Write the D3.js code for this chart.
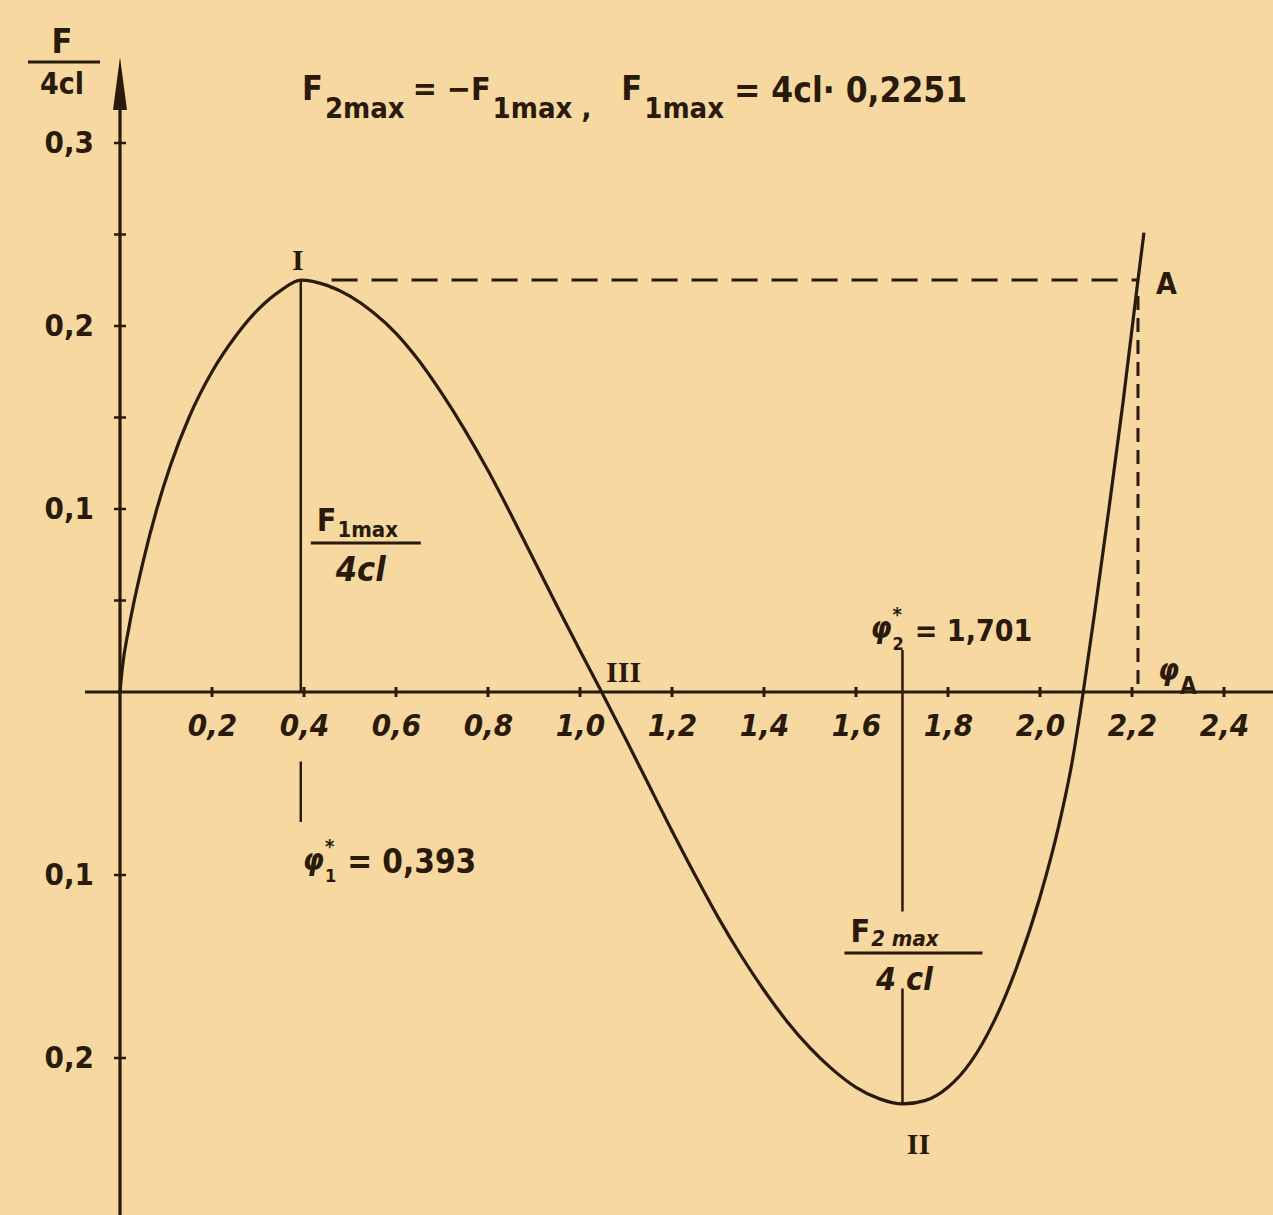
<!DOCTYPE html>
<html>
<head>
<meta charset="utf-8">
<script src="https://cdn.jsdelivr.net/npm/d3@7"></script>
<style>
  html, body { margin: 0; padding: 0; background: #f6d8a0; }
  svg { display: block; }
  text { font-family: "DejaVu Sans Condensed", "DejaVu Sans", sans-serif; fill: #2a1a0a; font-weight: bold; }
  .roman { font-family: "Liberation Serif", "DejaVu Serif", serif; font-weight: bold; }
</style>
</head>
<body>
<svg id="chart" width="1273" height="1215"></svg>
<script>
// Angle φ (rad) and reduced force F/(4cl) along the characteristic curve
const phi   = [0, 0.005, 0.020, 0.050, 0.080, 0.110, 0.150, 0.200, 0.250, 0.300, 0.350, 0.393,
               0.450, 0.500, 0.550, 0.600, 0.650, 0.700, 0.750, 0.800, 0.850, 0.900, 0.950, 1.000, 1.047,
               1.100, 1.150, 1.200, 1.250, 1.300, 1.350, 1.400, 1.450, 1.500, 1.550, 1.600, 1.650, 1.701,
               1.750, 1.800, 1.850, 1.900, 1.950, 2.000, 2.040, 2.070, 2.094, 2.120, 2.150, 2.180, 2.213, 2.226];
const force = [0, 0.013, 0.036, 0.071, 0.100, 0.124, 0.150, 0.175, 0.194, 0.209, 0.2195, 0.2251,
               0.2222, 0.2163, 0.2075, 0.196, 0.181, 0.163, 0.143, 0.121, 0.097, 0.072, 0.047, 0.0225, 0,
               -0.026, -0.051, -0.076, -0.100, -0.123, -0.144, -0.163, -0.180, -0.1945, -0.2065, -0.216, -0.2222, -0.2251,
               -0.2233, -0.2160, -0.202, -0.180, -0.150, -0.112, -0.074, -0.038, 0, 0.0455, 0.1004, 0.1574, 0.2251, 0.251];

// Characteristic points
const phi1Star = 0.393, phi2Star = 1.701, phiA = 2.213;
const f1Max = 0.2251, f2Max = -0.2251;

// Axis ticks
const xTicks = [0.2, 0.4, 0.6, 0.8, 1.0, 1.2, 1.4, 1.6, 1.8, 2.0, 2.2, 2.4];
const yMinorTicks = [-0.2, -0.1, 0.05, 0.1, 0.15, 0.2, 0.25, 0.3];
const yLabelTicks = [-0.2, -0.1, 0.1, 0.2, 0.3];

const ink = "#2a1a0a";
const svg = d3.select("#chart");

const x = d3.scaleLinear().domain([0, 2.4]).range([120, 1224]);
const y = d3.scaleLinear().domain([0, 0.3]).range([692, 143]);

const comma = d => d3.format(".1f")(Math.abs(d)).replace(".", ",");

// ---- x axis ----
svg.append("line")
  .attr("x1", x(-0.076)).attr("x2", 1273)
  .attr("y1", y(0)).attr("y2", y(0))
  .attr("stroke", ink).attr("stroke-width", 3);

const xAxis = svg.append("g")
  .attr("transform", `translate(0,${y(0)})`)
  .call(d3.axisBottom(x).tickValues(xTicks).tickSize(0).tickPadding(22).tickFormat(comma));
xAxis.select(".domain").remove();
xAxis.selectAll("text")
  .attr("font-size", 31).attr("font-style", "italic")
  .attr("fill", ink).style("font-family", "'DejaVu Sans Condensed', sans-serif");
svg.append("g").selectAll("line").data(xTicks).join("line")
  .attr("x1", d => x(d)).attr("x2", d => x(d))
  .attr("y1", y(0) - 5).attr("y2", y(0) + 5)
  .attr("stroke", ink).attr("stroke-width", 3);

// ---- y axis ----
svg.append("line")
  .attr("x1", x(0)).attr("x2", x(0))
  .attr("y1", 1215).attr("y2", y(0.33))
  .attr("stroke", ink).attr("stroke-width", 3.2);
svg.append("path")
  .attr("d", `M${x(0)},${y(0.347)} L${x(0) - 7},${y(0.318)} L${x(0) + 7},${y(0.318)} Z`)
  .attr("fill", ink);

svg.append("g").selectAll("line").data(yMinorTicks).join("line")
  .attr("x1", x(0) - 6).attr("x2", x(0) + 6)
  .attr("y1", d => y(d)).attr("y2", d => y(d))
  .attr("stroke", ink).attr("stroke-width", 2.5);

const yAxis = svg.append("g")
  .attr("transform", `translate(${x(0)},0)`)
  .call(d3.axisLeft(y).tickValues(yLabelTicks).tickSize(0).tickPadding(26).tickFormat(comma));
yAxis.select(".domain").remove();
yAxis.selectAll("text")
  .attr("font-size", 31)
  .attr("fill", ink).style("font-family", "'DejaVu Sans Condensed', sans-serif");

// y axis title F / 4cl
svg.append("text").attr("x", 62).attr("y", 53).attr("text-anchor", "middle")
  .attr("font-size", 34).text("F");
svg.append("line").attr("x1", 28).attr("x2", 100).attr("y1", 62).attr("y2", 62)
  .attr("stroke", ink).attr("stroke-width", 3);
svg.append("text").attr("x", 62).attr("y", 94).attr("text-anchor", "middle")
  .attr("font-size", 30).text("4cl");

// ---- reference lines ----
// F1max level through I to A
svg.append("line")
  .attr("x1", x(0.46)).attr("x2", x(phiA))
  .attr("y1", y(f1Max)).attr("y2", y(f1Max))
  .attr("stroke", ink).attr("stroke-width", 3).attr("stroke-dasharray", "26,14");
// φA drop line
svg.append("line")
  .attr("x1", x(phiA)).attr("x2", x(phiA))
  .attr("y1", y(f1Max) + 16).attr("y2", y(0))
  .attr("stroke", ink).attr("stroke-width", 3).attr("stroke-dasharray", "14,8");
// φ1* ordinate
svg.append("line")
  .attr("x1", x(phi1Star)).attr("x2", x(phi1Star))
  .attr("y1", y(f1Max)).attr("y2", y(0))
  .attr("stroke", ink).attr("stroke-width", 2.5);
svg.append("line")
  .attr("x1", x(phi1Star)).attr("x2", x(phi1Star))
  .attr("y1", y(-0.038)).attr("y2", y(-0.071))
  .attr("stroke", ink).attr("stroke-width", 2.5);
// φ2* ordinate
svg.append("line")
  .attr("x1", x(phi2Star)).attr("x2", x(phi2Star))
  .attr("y1", y(0.023)).attr("y2", y(-0.12))
  .attr("stroke", ink).attr("stroke-width", 2.5);
svg.append("line")
  .attr("x1", x(phi2Star)).attr("x2", x(phi2Star))
  .attr("y1", y(-0.162)).attr("y2", y(f2Max))
  .attr("stroke", ink).attr("stroke-width", 2.5);

// ---- the curve ----
const pts = phi.map((p, i) => [p, force[i]]);
svg.append("path")
  .datum(pts)
  .attr("d", d3.line().x(d => x(d[0])).y(d => y(d[1])).curve(d3.curveMonotoneX))
  .attr("fill", "none").attr("stroke", ink).attr("stroke-width", 3.2)
  .attr("stroke-linejoin", "round");

// ---- annotations ----
function txt(xp, yp, s, size, italic) {
  const t = svg.append("text").attr("x", xp).attr("y", yp).attr("font-size", size).text(s);
  if (italic) t.attr("font-style", "italic");
  return t;
}
// Writes a run of pieces left to right, each starting where the previous one ended
function run(x0, pieces) {
  let cx = x0;
  pieces.forEach(p => {
    const t = txt(cx + (p.gap || 0), p.y, p.t, p.s, p.i);
    cx = cx + (p.gap || 0) + t.node().getComputedTextLength();
  });
  return cx;
}

// Header: F2max = −F1max ,  F1max = 4cl·0,2251
run(302, [
  {t: "F", y: 100, s: 34}, {t: "2max", y: 118, s: 29, gap: 2},
  {t: "=", y: 100, s: 32, gap: 8}, {t: "−F", y: 100, s: 32, gap: 10},
  {t: "1max ,", y: 118, s: 29, gap: 2},
  {t: "F", y: 100, s: 34, gap: 30}, {t: "1max", y: 118, s: 29, gap: 2},
  {t: "= 4cl· 0,2251", y: 102, s: 35, gap: 10}
]);

// Roman numerals and A
svg.append("text").attr("class", "roman").attr("x", x(phi1Star) - 3).attr("y", y(f1Max) - 10)
  .attr("text-anchor", "middle").attr("font-size", 30).text("I");
svg.append("text").attr("class", "roman").attr("x", x(1.047) + 22).attr("y", y(0) - 10)
  .attr("text-anchor", "middle").attr("font-size", 30).text("III");
svg.append("text").attr("class", "roman").attr("x", x(phi2Star) + 16).attr("y", y(f2Max) + 50)
  .attr("text-anchor", "middle").attr("font-size", 30).text("II");
txt(x(phiA) + 18, y(f1Max) + 14, "A", 30);

// F1max / 4cl
run(x(phi1Star) + 16, [{t: "F", y: 531, s: 32}, {t: "1max", y: 537, s: 22, gap: 1}]);
svg.append("line").attr("x1", x(phi1Star) + 10).attr("x2", x(phi1Star) + 120)
  .attr("y1", 543).attr("y2", 543).attr("stroke", ink).attr("stroke-width", 3);
svg.append("text").attr("x", x(phi1Star) + 60).attr("y", 581).attr("text-anchor", "middle")
  .attr("font-size", 34).attr("font-style", "italic").text("4cl");

// F2max / 4cl
run(x(phi2Star) - 52, [{t: "F", y: 942, s: 32}, {t: "2 max", y: 946, s: 22, i: true, gap: 1}]);
svg.append("line").attr("x1", x(phi2Star) - 58).attr("x2", x(phi2Star) + 80)
  .attr("y1", 953).attr("y2", 953).attr("stroke", ink).attr("stroke-width", 3);
svg.append("text").attr("x", x(phi2Star) + 2).attr("y", 990).attr("text-anchor", "middle")
  .attr("font-size", 32).attr("font-style", "italic").text("4 cl");

// φ with subscript index and star, followed by its value
function phiLabel(x0, base, index, value, vSize) {
  const f = txt(x0, base, "φ", 30, true);
  const w = f.node().getComputedTextLength();
  const sub = txt(x0 + w + 1, base + 12, index, 18);
  txt(x0 + w + 1, base - 17, "*", 20);
  const ws = sub.node().getComputedTextLength();
  txt(x0 + w + ws + 12, base + 3, value, vSize);
}
phiLabel(x(phi2Star) - 32, 638, "2", "= 1,701", 30);
phiLabel(x(phi1Star) + 2, 870, "1", "= 0,393", 33);

// φA
run(x(phiA) + 20, [{t: "φ", y: 680, s: 30, i: true}, {t: "A", y: 694, s: 24, gap: 1}]);
</script>
</body>
</html>
